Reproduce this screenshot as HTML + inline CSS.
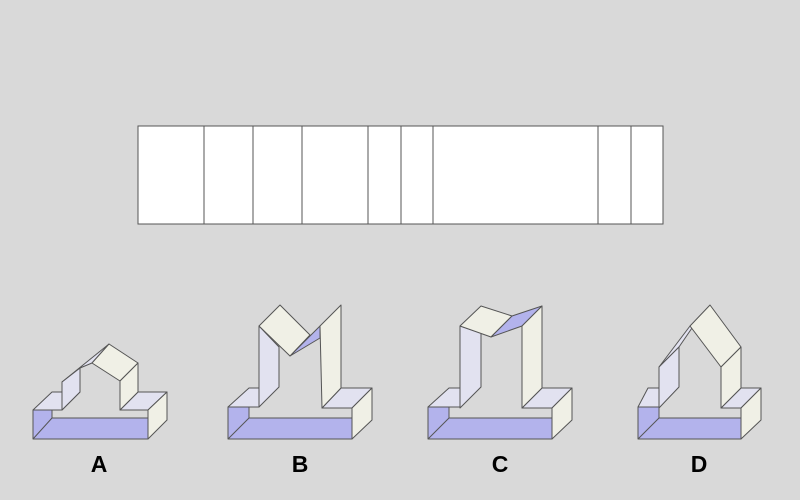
<!DOCTYPE html>
<html><head><style>body{margin:0;background:#d9d9d9}svg{display:block}</style></head><body>
<svg width="800" height="500" viewBox="0 0 800 500" xmlns="http://www.w3.org/2000/svg">
<rect width="800" height="500" fill="#d9d9d9"/>
<g stroke="#555" stroke-width="1" fill="#fff">
<rect x="138" y="126" width="525" height="98"/>
<path d="M204 126V224M253 126V224M302 126V224M368 126V224M401 126V224M433 126V224M598 126V224M631 126V224" fill="none"/>
</g>
<g stroke="#555" stroke-width="1" stroke-linejoin="round">
<!-- A -->
<polygon points="33,410 52,410 52,418 148,418 148,439 33,439" fill="#b3b3ec"/>
<path d="M52 418L33 439" fill="none"/>
<polygon points="33,410 62,410 80,392 52,392" fill="#e2e2f0"/>
<polygon points="120,410 148,410 167,392 138,392" fill="#e2e2f0"/>
<polygon points="148,410 167,392 167,420 148,439" fill="#f0f0e6"/>
<polygon points="62,382 80,368 92,363 109,344" fill="#e2e2f0"/>
<polygon points="62,382 62,410 80,392 80,368" fill="#e2e2f0"/>
<polygon points="92,363 109,344 138,363 120,381" fill="#f0f0e6"/>
<polygon points="120,381 138,363 138,392 120,410" fill="#f0f0e6"/>
<!-- B -->
<polygon points="228,407 249,407 249,418 352,418 352,439 228,439" fill="#b3b3ec"/>
<path d="M249 418L228 439" fill="none"/>
<polygon points="228,407 259,407 268,388 249,388" fill="#e2e2f0"/>
<polygon points="322,408 352,408 372,388 341,388" fill="#e2e2f0"/>
<polygon points="352,408 372,388 372,420 352,439" fill="#f0f0e6"/>
<polygon points="259,326 279,347 279,387 259,407" fill="#e2e2f0"/>
<polygon points="290,356 320,326 320,338" fill="#b3b3ec"/>
<polygon points="259,326 280,305 310,335 290,356" fill="#f0f0e6"/>
<polygon points="320,326 341,305 341,388 322,408" fill="#f0f0e6"/>
<!-- C -->
<polygon points="428,407 449,407 449,418 552,418 552,439 428,439" fill="#b3b3ec"/>
<path d="M449 418L428 439" fill="none"/>
<polygon points="428,407 460,407 460,388 449,388" fill="#e2e2f0"/>
<polygon points="522,408 552,408 572,388 542,388" fill="#e2e2f0"/>
<polygon points="552,408 572,388 572,420 552,439" fill="#f0f0e6"/>
<polygon points="460,326 460,408 481,387 481,333" fill="#e2e2f0"/>
<polygon points="460,326 481,306 512,316 491,337" fill="#f0f0e6"/>
<polygon points="491,337 512,316 542,306 522,326" fill="#b3b3ec"/>
<polygon points="522,326 542,306 542,388 522,408" fill="#f0f0e6"/>
<!-- D -->
<polygon points="638,407 659,407 659,418 741,418 741,439 638,439" fill="#b3b3ec"/>
<path d="M659 418L638 439" fill="none"/>
<polygon points="638,407 659,407 668,388 648,388" fill="#e2e2f0"/>
<polygon points="721,408 741,408 761,388 741,388" fill="#e2e2f0"/>
<polygon points="741,408 761,388 761,420 741,439" fill="#f0f0e6"/>
<polygon points="659,367 690,326 692,328 679,347" fill="#e2e2f0"/>
<polygon points="659,367 659,408 679,387 679,347" fill="#e2e2f0"/>
<polygon points="690,326 710,305 741,347 721,367" fill="#f0f0e6"/>
<polygon points="721,367 741,347 741,388 721,408" fill="#f0f0e6"/>
</g>
<g font-family="Liberation Sans, sans-serif" font-weight="bold" font-size="23" text-anchor="middle" fill="#000">
<text x="99" y="472">A</text><text x="300" y="472">B</text><text x="500" y="472">C</text><text x="699" y="472">D</text>
</g>
</svg>
</body></html>
